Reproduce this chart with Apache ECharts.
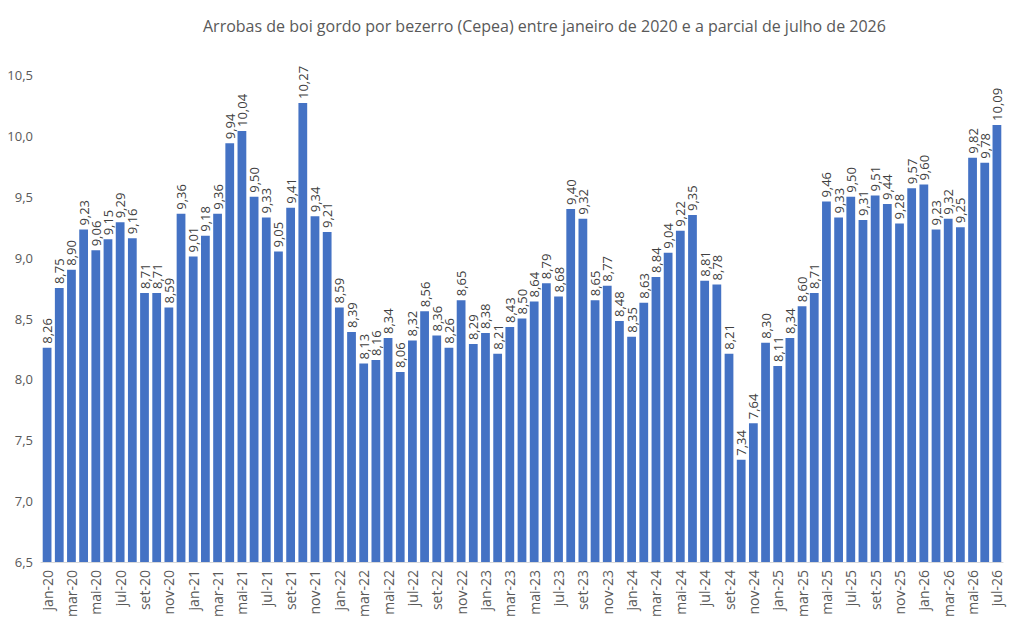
<!DOCTYPE html>
<html>
<head>
<meta charset="utf-8">
<script src="https://cdn.jsdelivr.net/npm/echarts@6/dist/echarts.min.js"></script>
<style>
  html, body { margin: 0; padding: 0; background: #fff; }
  #chart { width: 1011px; height: 630px; }
</style>
</head>
<body>
<div id="chart"></div>
<script>
var years = ['20', '21', '22', '23', '24', '25', '26'];
var monthNames = ['jan', 'fev', 'mar', 'abr', 'mai', 'jun', 'jul', 'ago', 'set', 'out', 'nov', 'dez'];

var values2020 = [8.26, 8.75, 8.90, 9.23, 9.06, 9.15, 9.29, 9.16, 8.71, 8.71, 8.59, 9.36];
var values2021 = [9.01, 9.18, 9.36, 9.94, 10.04, 9.50, 9.33, 9.05, 9.41, 10.27, 9.34, 9.21];
var values2022 = [8.59, 8.39, 8.13, 8.16, 8.34, 8.06, 8.32, 8.56, 8.36, 8.26, 8.65, 8.29];
var values2023 = [8.38, 8.21, 8.43, 8.50, 8.64, 8.79, 8.68, 9.40, 9.32, 8.65, 8.77, 8.48];
var values2024 = [8.35, 8.63, 8.84, 9.04, 9.22, 9.35, 8.81, 8.78, 8.21, 7.34, 7.64, 8.30];
var values2025 = [8.11, 8.34, 8.60, 8.71, 9.46, 9.33, 9.50, 9.31, 9.51, 9.44, 9.28, 9.57];
var values2026 = [9.60, 9.23, 9.32, 9.25, 9.82, 9.78, 10.09];

var values = [].concat(values2020, values2021, values2022, values2023, values2024, values2025, values2026);

// month labels like "jan-20", one per bar
var categories = [];
years.forEach(function(y) {
  monthNames.forEach(function(m) { categories.push(m + '-' + y); });
});
categories = categories.slice(0, values.length);

function comma(v, digits) {
  return v.toFixed(digits).replace('.', ',');
}

var chart = echarts.init(document.getElementById('chart'), null, { renderer: 'svg' });
chart.setOption({
  animation: false,
  title: {
    text: 'Arrobas de boi gordo por bezerro (Cepea) entre janeiro de 2020 e a parcial de julho de 2026',
    left: 198,
    top: 13,
    textStyle: { color: '#595959', fontFamily: 'Open Sans', fontSize: 16, fontWeight: 'normal' }
  },
  grid: { left: 41, right: 8, top: 75, bottom: 68 },
  xAxis: {
    type: 'category',
    data: categories,
    axisTick: { show: false },
    axisLine: { lineStyle: { color: '#d9d9d9' } },
    axisLabel: {
      interval: 1,
      rotate: 90,
      color: '#595959',
      fontFamily: 'Open Sans',
      fontSize: 14,
      margin: 8
    }
  },
  yAxis: {
    type: 'value',
    min: 6.5,
    max: 10.5,
    interval: 0.5,
    splitLine: { show: false },
    axisLine: { show: false },
    axisTick: { show: false },
    axisLabel: {
      color: '#595959',
      fontFamily: 'Open Sans',
      fontSize: 13,
      margin: 8,
      formatter: function(v) { return comma(v, 1); }
    }
  },
  series: [{
    type: 'bar',
    data: values,
    barCategoryGap: '28%',
    itemStyle: { color: '#4472c4' },
    label: {
      show: true,
      position: 'top',
      rotate: 90,
      align: 'left',
      verticalAlign: 'middle',
      distance: 4,
      color: '#404040',
      fontFamily: 'Open Sans',
      fontSize: 13,
      formatter: function(p) { return comma(p.value, 2); }
    }
  }]
});
</script>
</body>
</html>
